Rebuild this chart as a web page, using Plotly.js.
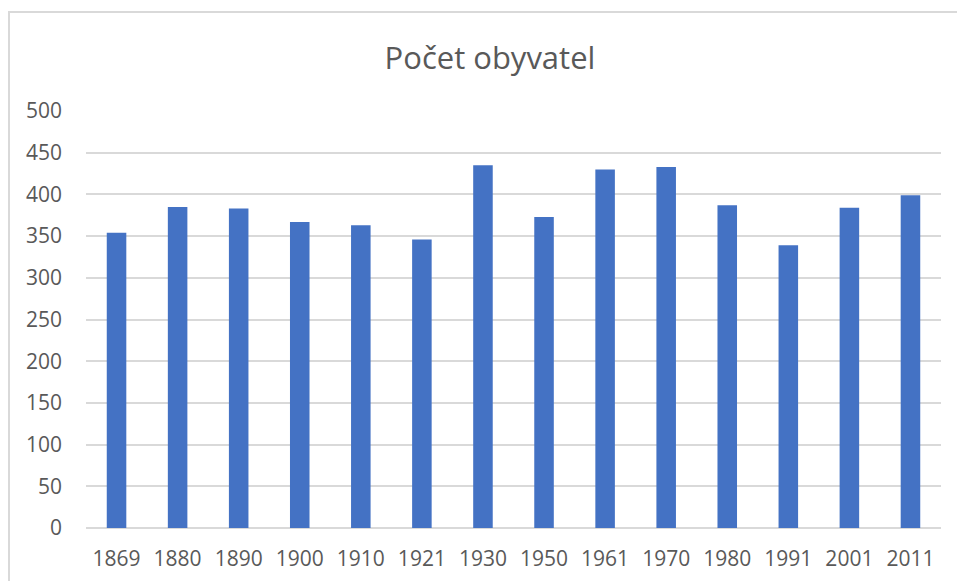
<!DOCTYPE html>
<html>
<head>
<meta charset="utf-8">
<script src="https://cdn.plot.ly/plotly-3.0.1.min.js"></script>
<style>
  html, body { margin: 0; padding: 0; background: #ffffff; overflow: hidden; }
  #frame { position: absolute; left: 8px; top: 11px; width: 1000px; height: 620px; border: 2px solid #d9d9d9; box-sizing: border-box; }
  #chart { position: absolute; left: 0; top: 0; width: 957px; height: 581px; }
</style>
</head>
<body>
<div id="frame"></div>
<div id="chart"></div>
<script>
const years = ['1869','1880','1890','1900','1910','1921','1930','1950','1961','1970','1980','1991','2001','2011'];
const population = [354, 385, 383, 367, 363, 346, 435, 373, 430, 433, 387, 339, 384, 399];
const yTicks = [0, 50, 100, 150, 200, 250, 300, 350, 400, 450, 500];

const fontFamily = '"Open Sans", "Noto Sans", sans-serif';
const textColor = '#595959';

const trace = {
  type: 'bar',
  x: years,
  y: population,
  marker: { color: '#4472c4' },
  hoverinfo: 'x+y'
};

const layout = {
  width: 957,
  height: 581,
  paper_bgcolor: 'rgba(0,0,0,0)',
  plot_bgcolor: 'rgba(0,0,0,0)',
  margin: { l: 86, r: 16, t: 111, b: 53 },
  bargap: 0.68,
  showlegend: false,
  font: { family: fontFamily, color: textColor, size: 21 },
  title: {
    text: 'Počet obyvatel',
    font: { family: fontFamily, size: 31, color: textColor },
    xref: 'container', x: 0.512, xanchor: 'center',
    yref: 'container', y: 0.9, yanchor: 'middle'
  },
  xaxis: {
    type: 'category',
    showgrid: false,
    showline: false,
    zeroline: false,
    ticks: '',
    ticklabelstandoff: 16,
    tickfont: { family: fontFamily, size: 21, color: textColor }
  },
  yaxis: {
    range: [0, 500],
    tickvals: yTicks,
    ticktext: yTicks.map(String),
    showgrid: true,
    gridcolor: '#d9d9d9',
    gridwidth: 2,
    zeroline: true,
    zerolinecolor: '#d9d9d9',
    zerolinewidth: 2,
    showline: false,
    ticks: '',
    ticklabelstandoff: 23,
    tickfont: { family: fontFamily, size: 21, color: textColor }
  }
};

Plotly.newPlot('chart', [trace], layout, { displayModeBar: false, staticPlot: true });
</script>
</body>
</html>
